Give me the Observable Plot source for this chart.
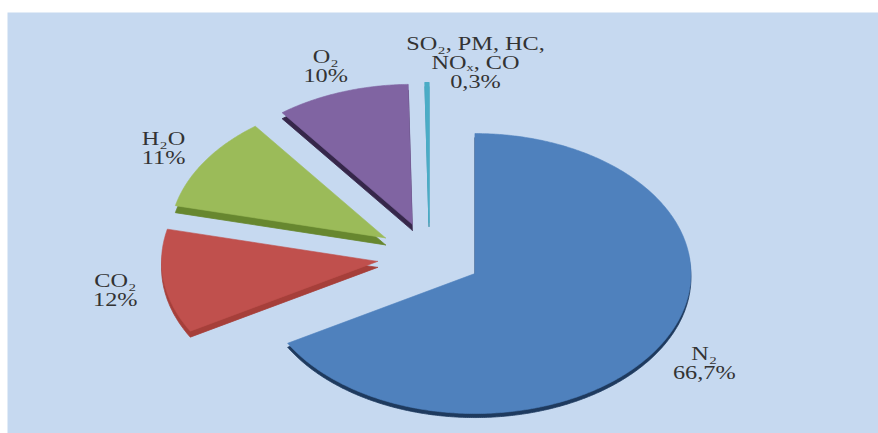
<!DOCTYPE html>
<html>
<head>
<meta charset="utf-8">
<script src="https://cdn.jsdelivr.net/npm/d3@7"></script>
<script src="https://cdn.jsdelivr.net/npm/@observablehq/plot@0.6"></script>
<style>
  html, body { margin: 0; padding: 0; background: #c6d9f0; overflow: hidden; }
  svg { display: block; }
</style>
</head>
<body>
<div id="chart"></div>
<script>
// ---- data ----
const gases = ["N₂", "CO₂", "H₂O", "O₂", "SO₂, PM, HC,\nNOₓ, CO"];
const shares = [66.7, 12, 11, 10, 0.3];
const shareLabels = ["66,7%", "12%", "11%", "10%", "0,3%"];

// ---- styles ----
const topColors = ["#4f81bd", "#c0504d", "#9bbb59", "#8064a2", "#4bacc6"];
const sideColors = ["#1e3a5e", "#a63f3a", "#67872f", "#36274a", "#3a90a8"];
const panelColor = "#c6d9f0";
const textColor = "#333333";

// ---- layout ----
const W = 878, H = 433;
const margin = {top: 12, left: 7, right: 0, bottom: 0};
const rx = 216, ry = 140;          // pixel radii of the tilted pie
const cx = 422, cy = 244;          // pie centre inside the frame (px)
const explode = 0.243;             // explosion, in radii
const labelR = 1.47;
const innerW = W - margin.left - margin.right;
const innerH = H - margin.top - margin.bottom;
const xDomain = [-cx / rx, (innerW - cx) / rx];
const yDomain = [-(innerH - cy) / ry, cy / ry];
const depths = [4, 6, 7, 6, 4].map(d => d / ry);   // extrusion depth per slice

const total = d3.sum(shares);
const rad = Math.PI / 180;
let cum = 0;
const slices = shares.map((v, i) => {
  const a0 = cum / total * 360;
  cum += v;
  const a1 = cum / total * 360;
  const mid = (a0 + a1) / 2;
  const ex = explode * Math.sin(mid * rad), ey = explode * Math.cos(mid * rad);
  const pts = [{x: ex, y: ey}];
  const n = Math.max(2, Math.ceil((a1 - a0) / 0.5));
  for (let k = 0; k <= n; ++k) {
    const a = (a0 + (a1 - a0) * k / n) * rad;
    pts.push({x: ex + Math.sin(a), y: ey + Math.cos(a)});
  }
  pts.push({x: ex, y: ey});
  return {i, gas: gases[i], label: shareLabels[i], mid, pts,
          side: pts.map(p => ({x: p.x, y: p.y - depths[i]})),
          lx: labelR * Math.sin(mid * rad), ly: labelR * Math.cos(mid * rad)};
});

const marks = [Plot.frame({fill: panelColor, stroke: "none"})];
slices.forEach(s => {
  marks.push(Plot.line(s.side, {x: "x", y: "y", fill: sideColors[s.i], stroke: sideColors[s.i], strokeWidth: 0.8, curve: "linear"}));
});
slices.forEach(s => {
  marks.push(Plot.line(s.pts, {x: "x", y: "y", fill: topColors[s.i], stroke: topColors[s.i], strokeWidth: s.i === 4 ? 1.2 : 0.6, curve: "linear"}));
});
const textOpts = {x: "lx", y: "ly", text: d => d.gas + "\n" + d.label,
  fontFamily: "Liberation Serif, Times New Roman, serif", fontSize: 18,
  lineHeight: 1.06, fill: textColor, textAnchor: "middle", dy: 4};
marks.push(Plot.text(slices.filter(s => s.i !== 4), textOpts));
marks.push(Plot.text(slices.filter(s => s.i === 4), {...textOpts, dx: 49, dy: 12}));

const svg = Plot.plot({
  width: W, height: H,
  marginTop: margin.top, marginLeft: margin.left, marginRight: margin.right, marginBottom: margin.bottom,
  x: {domain: xDomain, axis: null},
  y: {domain: yDomain, axis: null},
  style: {background: "#ffffff"},
  marks
});
// widen the serif text horizontally, as in the reference
svg.querySelectorAll("text").forEach(t => {
  const tr = t.getAttribute("transform");
  if (tr) t.setAttribute("transform", tr + " scale(1.35,1)");
});
document.getElementById("chart").appendChild(svg);
</script>
</body>
</html>
